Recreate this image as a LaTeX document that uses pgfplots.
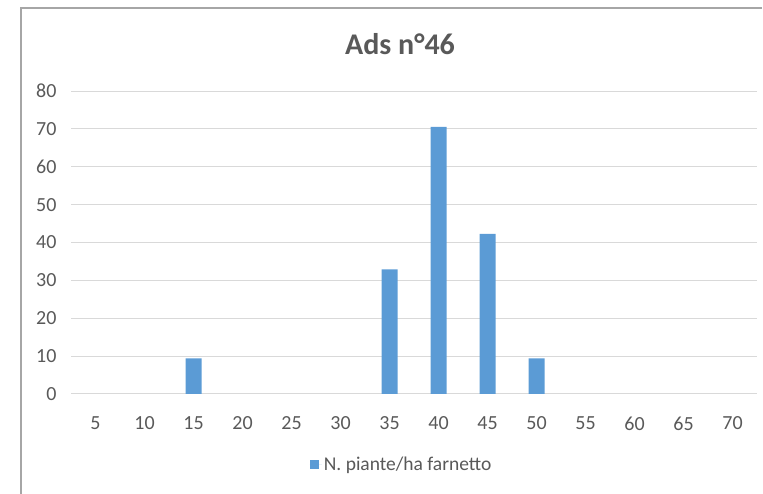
\documentclass[border=0pt]{standalone}
\usepackage{pgfplots}
\pgfplotsset{compat=1.18}
\usepackage{fontspec}
\setmainfont{Carlito}
\definecolor{barblue}{HTML}{5B9BD5}
\definecolor{gridgray}{HTML}{D9D9D9}
\definecolor{txtgray}{HTML}{595959}
\definecolor{framegray}{HTML}{A6A6A6}
\begin{document}
\begin{tikzpicture}[x=1pt,y=1pt]
    \useasboundingbox (0,0) rectangle (763,494);
    % chart frame (cropped on the right and bottom)
    \draw[framegray, line width=1.2pt] (21,0) -- (21,486) -- (762,486);
    \node[anchor=base, text=txtgray, font=\bfseries\fontsize{30}{30}\selectfont] at (400,439) {Ads n°46};
    \begin{axis}[
        at={(71pt,100pt)}, anchor=south west,
        scale only axis, width=686pt, height=303pt,
        ybar, bar width=16pt,
        xmin=2.5, xmax=72.5, ymin=0, ymax=80,
        xtick={5,10,...,70}, ytick={0,10,...,80},
        ymajorgrids, major grid style={gridgray, line width=1pt},
        axis line style={draw=none},
        tick style={draw=none},
        /pgf/number format/assume math mode=true,
        ticklabel style={font=\fontsize{20}{20}\selectfont, text=txtgray},
        xticklabel style={yshift=-15pt},
        yticklabel style={xshift=-11pt},
        legend style={at={(0.482,-0.234)}, anchor=center, draw=none,
            font=\fontsize{19.5}{19.5}\selectfont, text=txtgray},
        legend image code/.code={
            \fill[barblue] (0pt,-4.5pt) rectangle (9pt,4.5pt);
            \path (0pt,0pt) -- (12pt,0pt);},
    ]
        \addplot[fill=barblue, draw=none] coordinates {
            (15,9.4) (35,32.9) (40,70.5) (45,42.3) (50,9.4)
        };
        \addlegendentry{N. piante/ha farnetto}
    \end{axis}
\end{tikzpicture}
\end{document}
